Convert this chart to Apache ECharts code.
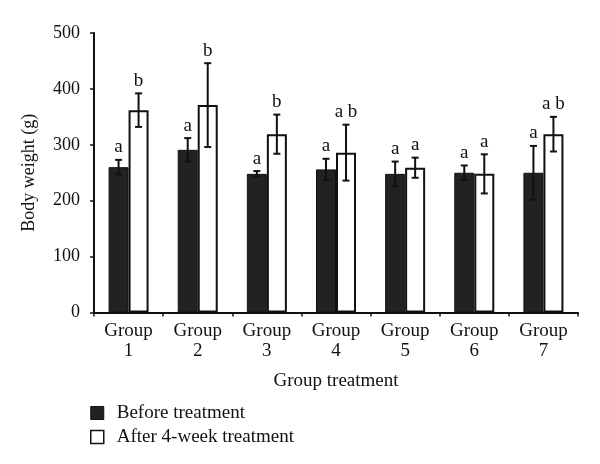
<!DOCTYPE html>
<html><head><meta charset="utf-8">
<script src="https://cdn.jsdelivr.net/npm/echarts@6/dist/echarts.min.js"></script>
<style>html,body{margin:0;padding:0;background:#fff}#c{width:600px;height:464px}</style>
</head><body><div id="c"></div>
<script>
const categories = ['Group\n1','Group\n2','Group\n3','Group\n4','Group\n5','Group\n6','Group\n7'];
const beforeValues = [260, 291, 248, 256, 248, 250, 250];
const beforeErrors = [13, 21, 5, 19, 22, 13, 48];
const afterValues = [362, 371, 319, 286, 259, 248, 319];
const afterErrors = [30, 75, 35, 50, 18, 35, 31];
const beforeLetters = ['a','a','a','a','a','a','a'];
const afterLetters = ['b','b','b','a b','a','a','a b'];
const yMin = 0, yMax = 500, yStep = 100;
const seriesNames = ['Before treatment', 'After 4-week treatment'];

const FONT = '"Liberation Serif", "Times New Roman", serif';
const chart = echarts.init(document.getElementById('c'), null, {renderer: 'canvas'});

function errRender(offset, letters) {
  return function (params, api) {
    const i = api.value(0), v = api.value(1), e = api.value(2);
    const p = api.coord([i, v]);
    const hi = api.coord([i, v + e]);
    const lo = api.coord([i, v - e]);
    const x = p[0] + offset;
    const cap = 3.5;
    const st = {stroke: '#111', lineWidth: 2};
    return {type: 'group', children: [
      {type: 'line', shape: {x1: x, y1: hi[1], x2: x, y2: lo[1]}, style: st},
      {type: 'line', shape: {x1: x - cap, y1: hi[1], x2: x + cap, y2: hi[1]}, style: st},
      {type: 'line', shape: {x1: x - cap, y1: lo[1], x2: x + cap, y2: lo[1]}, style: st},
      {type: 'text', style: {text: letters[params.dataIndex], x: x, y: hi[1] - 3,
        textAlign: 'center', textVerticalAlign: 'bottom',
        font: '19px ' + FONT, fill: '#111'}}
    ]};
  };
}

const option = {
  backgroundColor: '#fff',
  animation: false,
  grid: {left: 94, right: 22, top: 33, bottom: 151.5, containLabel: false},
  legend: {
    orient: 'vertical', left: 90, top: 403, padding: 0,
    itemWidth: 13, itemHeight: 13, itemGap: 4,
    icon: 'rect',
    textStyle: {fontFamily: FONT, fontSize: 19, lineHeight: 20, color: '#111', padding: [0, 0, 0, 8]},
    data: [
      {name: seriesNames[0], itemStyle: {color: '#222', borderColor: '#111', borderWidth: 1}},
      {name: seriesNames[1], itemStyle: {color: '#fff', borderColor: '#111', borderWidth: 1.5}}
    ]
  },
  xAxis: {
    type: 'category', data: categories,
    name: 'Group treatment', nameLocation: 'middle', nameGap: 59,
    nameTextStyle: {fontFamily: FONT, fontSize: 19, color: '#111'},
    axisLine: {lineStyle: {color: '#111', width: 2}},
    axisTick: {show: true, length: 4, lineStyle: {color: '#111', width: 1.5}, alignWithLabel: false},
    axisLabel: {fontFamily: FONT, fontSize: 19, color: '#111', lineHeight: 20, margin: 9, interval: 0},
    splitLine: {show: false}
  },
  yAxis: {
    type: 'value', min: yMin, max: yMax, interval: yStep,
    name: 'Body weight (g)', nameLocation: 'middle', nameGap: 56, nameRotate: 90,
    nameTextStyle: {fontFamily: FONT, fontSize: 18, color: '#111'},
    axisLine: {show: true, lineStyle: {color: '#111', width: 2}},
    axisTick: {show: true, length: 4, lineStyle: {color: '#111', width: 1.5}},
    axisLabel: {fontFamily: FONT, fontSize: 18, color: '#111', margin: 14},
    splitLine: {show: false}
  },
  series: [
    {name: seriesNames[0], type: 'bar', data: beforeValues, barWidth: 20, barGap: '0%',
      itemStyle: {color: '#222', borderColor: '#111', borderWidth: 1}},
    {name: seriesNames[1], type: 'bar', data: afterValues, barWidth: 20, barGap: '0%',
      itemStyle: {color: '#fff', borderColor: '#111', borderWidth: 2}},
    {type: 'custom', name: 'errBefore', z: 5,
      data: beforeValues.map((v, i) => [i, v, beforeErrors[i]]),
      encode: {x: 0, y: 1}, renderItem: errRender(-10, beforeLetters)},
    {type: 'custom', name: 'errAfter', z: 5,
      data: afterValues.map((v, i) => [i, v, afterErrors[i]]),
      encode: {x: 0, y: 1}, renderItem: errRender(10, afterLetters)}
  ]
};
chart.setOption(option);
</script></body></html>
